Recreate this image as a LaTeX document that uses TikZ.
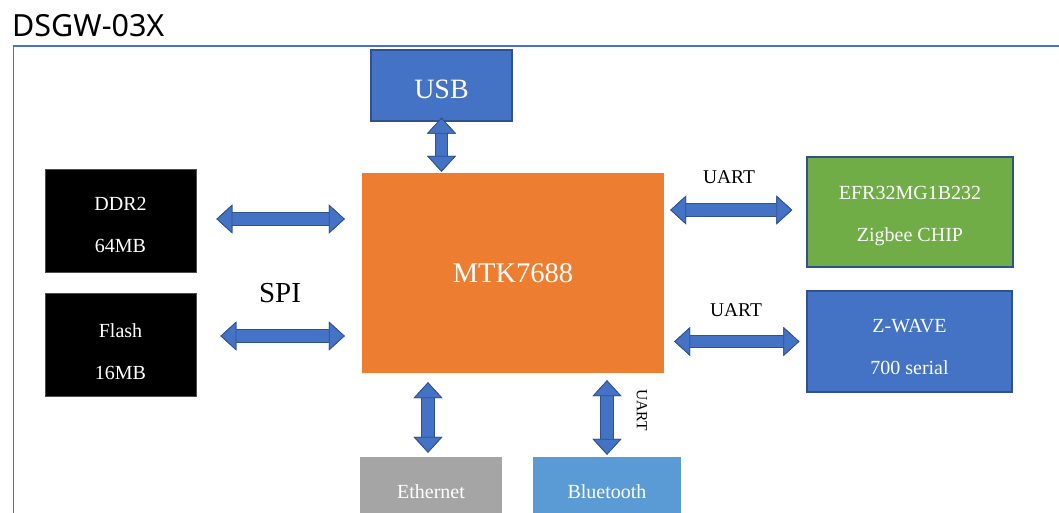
\documentclass[tikz,border=0pt]{standalone}
\usepackage{fontspec}
\setmainfont{Liberation Serif}
\newfontfamily\titlefont{Noto Sans}
\usetikzlibrary{arrows.meta,calc}
\definecolor{frameblue}{HTML}{4472C4}
\definecolor{usbblue}{HTML}{4472C4}
\definecolor{boxdark}{HTML}{2F528F}
\definecolor{mtkorange}{HTML}{ED7D31}
\definecolor{efrgreen}{HTML}{70AD47}
\definecolor{ethgray}{HTML}{A5A5A5}
\definecolor{btblue}{HTML}{5B9BD5}
\definecolor{arrowblue}{HTML}{4472C4}
\definecolor{arrowdark}{HTML}{2F528F}
\newcommand\tstrut[1]{\rule{0pt}{#1pt}}
\tikzset{
  bigtip/.tip={Triangle[length=16pt 0 0,width=29pt 0 0,line width=0.8pt,fill=arrowblue,color=arrowdark]},
  fat/.style={draw=arrowdark, line width=13.5pt, {bigtip}-{bigtip},
    postaction={draw=arrowblue, line width=11.5pt, {bigtip}-{bigtip}}},
  blk/.style={rectangle, inner sep=0pt, align=center, text=white,
    font=\fontsize{20}{42}\selectfont},
  lbl/.style={inner sep=0pt, text=black, font=\fontsize{19.5}{20}\selectfont}
}
\begin{document}
\begin{tikzpicture}[x=1pt,y=-1pt]
\useasboundingbox (0,0) rectangle (1059,513);
% frame and title
\draw[frameblue, line width=1.8pt] (13.5,530) -- (13.5,46) -- (1075,46);
\node[anchor=base west, inner sep=0pt, font=\titlefont\fontsize{30.5}{30}\selectfont] (title) at (12,37) {DSGW-03X};
% blocks
\node[blk, fill=usbblue, draw=boxdark, line width=1.2pt, minimum width=141pt, minimum height=71pt,
  font=\fontsize{28}{28}\selectfont] (usb) at (441.5,85.5) {\tstrut{25.5}USB};
\node[blk, fill=black, draw=gray!60!black, line width=0.8pt, minimum width=151pt, minimum height=103pt]
  (ddr) at (120.5,220.5) {\tstrut{22.5}DDR2\\64MB};
\node[blk, fill=black, draw=gray!60!black, line width=0.8pt, minimum width=151pt, minimum height=103pt]
  (flash) at (120.5,344.5) {\tstrut{27.5}Flash\\16MB};
\node[blk, fill=mtkorange, minimum width=302pt, minimum height=200pt,
  font=\fontsize{28.5}{28.5}\selectfont] (mtk) at (513,273) {MTK7688};
\node[blk, fill=efrgreen, draw=boxdark, line width=1.5pt, minimum width=206pt, minimum height=110pt]
  (efr) at (910,212) {\tstrut{21}EFR32MG1B232\\Zigbee CHIP};
\node[blk, fill=usbblue, draw=boxdark, line width=1.2pt, minimum width=205pt, minimum height=101pt]
  (zw) at (909.5,341.5) {\tstrut{23.5}Z-WAVE\\700 serial};
\node[blk, fill=ethgray, minimum width=142pt, minimum height=70pt] (eth) at (431,492) {Ethernet};
\node[blk, fill=btblue, minimum width=148pt, minimum height=70pt] (bt) at (607,492) {Bluetooth};
% connectors
\draw[fat, shorten <=-4pt, shorten >=1pt] (usb.south) -- (usb.south |- mtk.north);
\draw[fat, shorten <=20pt, shorten >=17pt] ([yshift=1.5pt]ddr.east) -- ([yshift=1.5pt]ddr.east -| mtk.west);
\draw[fat, shorten <=24pt, shorten >=17pt] ([yshift=8.5pt]flash.east) -- ([yshift=8.5pt]flash.east -| mtk.west);
\draw[fat, shorten <=6pt, shorten >=14pt] ([yshift=2pt]efr.west -| mtk.east) -- ([yshift=2pt]efr.west);
\draw[fat, shorten <=10pt, shorten >=7pt] (zw.west -| mtk.east) -- (zw.west);
\draw[fat, shorten <=9pt, shorten >=4pt] ([xshift=-3pt]eth.north |- mtk.south) -- ([xshift=-3pt]eth.north);
\draw[fat, shorten <=7pt, shorten >=2pt] (bt.north |- mtk.south) -- (bt.north);
% labels
\node[lbl, font=\fontsize{29}{29}\selectfont] (spi) at (280,293) {SPI};
\node[lbl] (uart1) at (729,177) {UART};
\node[lbl] (uart2) at (736,310) {UART};
\node[lbl, font=\fontsize{15.5}{16}\selectfont, rotate=-90] (uart3) at (642,410) {UART};
\end{tikzpicture}
\end{document}
